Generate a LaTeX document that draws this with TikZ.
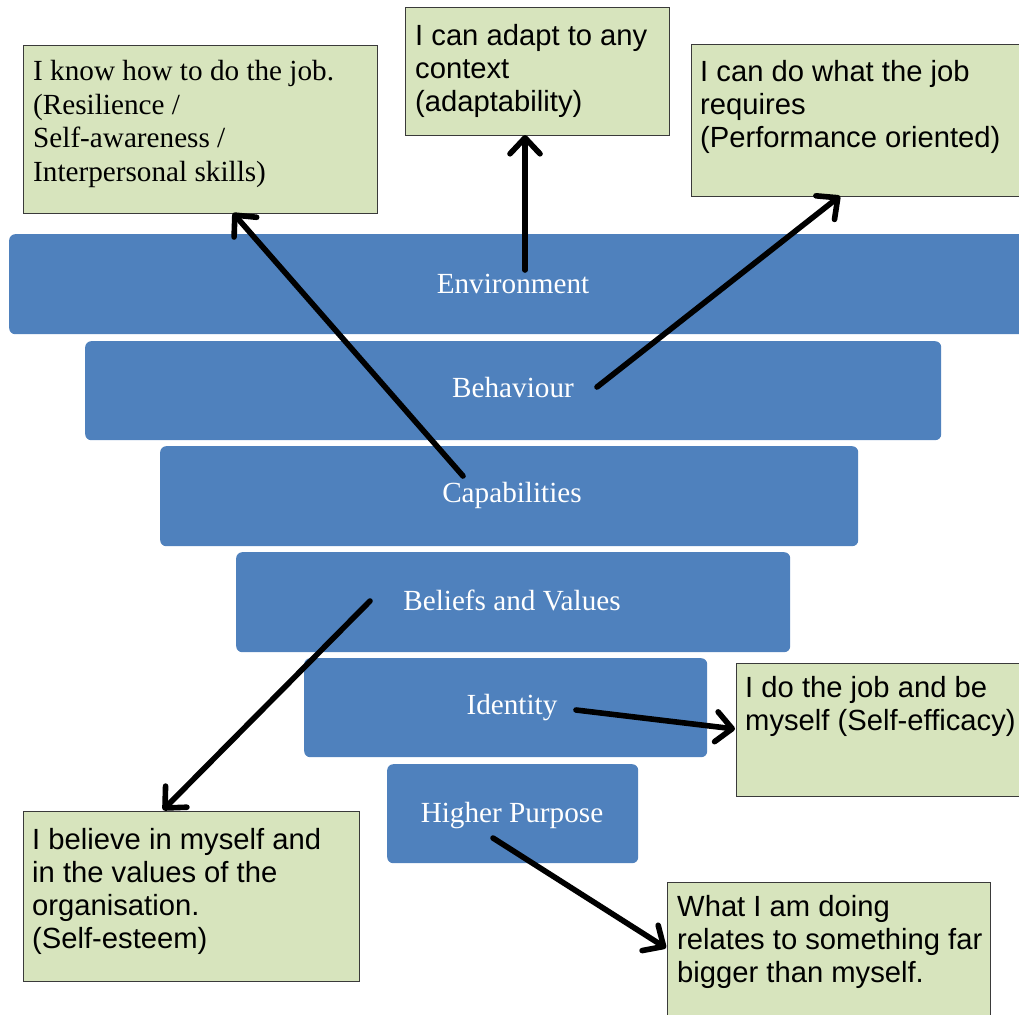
\documentclass[tikz,border=0pt]{standalone}
\usepackage{fontspec}
\setmainfont{Liberation Serif}
\newfontfamily\arialf{Liberation Sans}
\usetikzlibrary{arrows.meta}
\definecolor{barblue}{HTML}{4F81BD}
\definecolor{boxgreen}{HTML}{D7E4BD}
\definecolor{boxedge}{HTML}{3A3A3A}
\tikzset{
  bar/.style={fill=barblue, draw=none, rounded corners=6pt, anchor=north west, inner sep=0pt},
  barlabel/.style={text=white, font=\fontsize{29.2}{33.5}\selectfont},
  gbox/.style={fill=boxgreen, draw=boxedge, line width=1.3pt, anchor=north west, inner sep=0pt},
  sanstxt/.style={anchor=north west, inner sep=0pt, align=left,
    font=\arialf\fontsize{29.2}{33}\selectfont},
  seriftxt/.style={anchor=north west, inner sep=0pt, align=left,
    font=\fontsize{29.2}{33.5}\selectfont},
  conn/.style={line width=5.6pt, line cap=round,
    -{Straight Barb[length=16pt, width=30pt, line cap=round, line join=round]}},
}
\begin{document}
\begin{tikzpicture}[x=1pt, y=-1pt]
\useasboundingbox (0,0) rectangle (1019,1014);
\clip (0,0) rectangle (1019,1014);
% bars
\node[bar, minimum width=1020pt, minimum height=100pt] (env) at (9,234) {};
\node[barlabel] (envt) at (513,284) {Environment};
\node[bar, minimum width=856pt, minimum height=99pt] (beh) at (85,341) {};
\node[barlabel] (beht) at (513,388) {Behaviour};
\node[bar, minimum width=698pt, minimum height=100pt] (cap) at (160,446) {};
\node[barlabel] (capt) at (512,495.5) {Capabilities};
\node[bar, minimum width=554pt, minimum height=100pt] (bel) at (236,552) {};
\node[barlabel] (belt) at (512,600) {Beliefs and Values};
\node[bar, minimum width=403pt, minimum height=99pt] (ide) at (304,658) {};
\node[barlabel] (idet) at (512,707.5) {Identity};
\node[bar, minimum width=251pt, minimum height=99pt] (hig) at (387,764) {};
\node[barlabel] (higt) at (512,815.5) {Higher Purpose};
% green boxes
\node[gbox, minimum width=354pt, minimum height=168pt] (b1) at (23,45) {};
\node[seriftxt] (b1t) at (33,60.5) {I know how to do the job.\\(Resilience /\\Self-awareness /\\Interpersonal skills)};
\node[gbox, minimum width=264pt, minimum height=128pt] (b2) at (405,7) {};
\node[sanstxt] (b2t) at (415,24) {I can adapt to any\\context\\(adaptability)};
\node[gbox, minimum width=340pt, minimum height=152pt] (b3) at (691,44) {};
\node[sanstxt] (b3t) at (700,60) {I can do what the job\\requires\\(Performance oriented)};
\node[gbox, minimum width=300pt, minimum height=133pt] (b4) at (736,663) {};
\node[sanstxt] (b4t) at (745,676.6) {I do the job and be\\myself (Self-efficacy)};
\node[gbox, minimum width=336pt, minimum height=170pt] (b5) at (23,811) {};
\node[sanstxt] (b5t) at (32,828) {I believe in myself and\\in the values of the\\organisation.\\(Self-esteem)};
\node[gbox, minimum width=323pt, minimum height=150pt] (b6) at (667,882) {};
\node[sanstxt] (b6t) at (677,895.5) {What I am doing\\relates to something far\\bigger than myself.};
% connector end points
\coordinate (s1) at (463,476);
\coordinate (e1) at (233,213);
\coordinate (s2) at (525,270);
\coordinate (e2) at (525,135);
\coordinate (s3) at (597,387);
\coordinate (e3) at (840,196);
\coordinate (s4) at (370,601);
\coordinate (e4) at (163,810);
\coordinate (s5) at (576,710);
\coordinate (e5) at (735,729);
\coordinate (s6) at (493,838);
\coordinate (e6) at (666,948);
\draw[conn] (s1) -- (e1);
\draw[conn] (s2) -- (e2);
\draw[conn] (s3) -- (e3);
\draw[conn] (s4) -- (e4);
\draw[conn] (s5) -- (e5);
\draw[conn] (s6) -- (e6);
\end{tikzpicture}
\end{document}
